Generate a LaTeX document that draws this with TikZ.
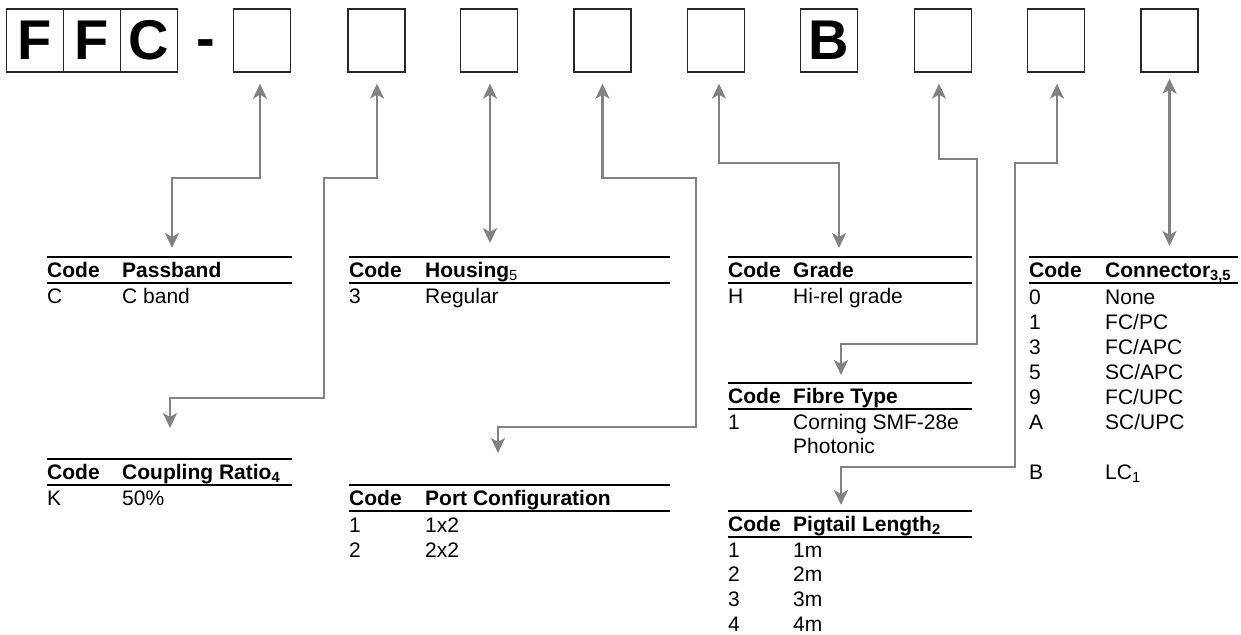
\documentclass[tikz,border=0pt]{standalone}
\usepackage{fontspec}
\setmainfont{Liberation Sans}
\usetikzlibrary{arrows.meta}

\definecolor{boxline}{RGB}{40,40,40}
\definecolor{conngray}{RGB}{130,130,130}

\newcommand\bigletters{\fontsize{56}{60}\selectfont\bfseries}
\newcommand\tabfont{\fontsize{21}{24}\selectfont}

\tikzset{
  codebox/.style={draw=boxline, line width=1.3pt, minimum width=57pt,
    minimum height=63pt, inner sep=0pt, font=\bigletters},
  conn/.style={draw=conngray, line width=2.4pt, {Stealth[length=15pt,width=14pt,inset=4pt]}-{Stealth[length=15pt,width=14pt,inset=4pt]}},
  tabrule/.style={line width=1.2pt, black},
  hd/.style={anchor=base west, inner sep=0pt, font=\tabfont\bfseries},
  cell/.style={anchor=base west, inner sep=0pt, font=\tabfont},
}

\begin{document}
\begin{tikzpicture}[x=1pt, y=-1pt]
  \useasboundingbox (0,0) rectangle (1241,634);

  % part-number boxes
  \node[codebox] (b1) at (35,40.5) {F};
  \node[codebox] (b2) at (92,40.5) {F};
  \node[codebox] (b3) at (149,40.5) {C};
  \node[anchor=base, inner sep=0pt, font=\bigletters] (dash) at (206,58) {-};
  \node[codebox] (b4)  at (262,40.5) {};
  \node[codebox] (b5)  at (376.5,40.5) {};
  \node[codebox] (b6)  at (489,40.5) {};
  \node[codebox] (b7)  at (602.5,40.5) {};
  \node[codebox] (b8)  at (716,40.5) {};
  \node[codebox] (b9)  at (829,40.5) {B};
  \node[codebox] (b10) at (943,40.5) {};
  \node[codebox] (b11) at (1056,40.5) {};
  \node[codebox] (b12) at (1169.5,40.5) {};

  % connector start points just below each box
  \coordinate (s4)  at ([xshift=-2pt,yshift=-11pt]b4.south);
  \coordinate (s5)  at ([xshift=0.5pt,yshift=-11pt]b5.south);
  \coordinate (s6)  at ([xshift=1pt,yshift=-11pt]b6.south);
  \coordinate (s7)  at ([yshift=-11pt]b7.south);
  \coordinate (s8)  at ([xshift=3pt,yshift=-11pt]b8.south);
  \coordinate (s10) at ([xshift=-4pt,yshift=-11pt]b10.south);
  \coordinate (s11) at ([xshift=1pt,yshift=-11pt]b11.south);
  \coordinate (s12) at ([yshift=-6pt]b12.south);

  % connector end points above each table
  \coordinate (e4)  at (172,248);
  \coordinate (e5)  at (170,428);
  \coordinate (e6)  at (s6 |- 0,243);
  \coordinate (e7)  at (498,453);
  \coordinate (e8)  at (839,248);
  \coordinate (e10) at (841,375);
  \coordinate (e11) at (841,505);
  \coordinate (e12) at (s12 |- 0,246);

  % connectors
  \draw[conn] (s4) |- (172,178) -- (e4);
  \draw[conn] (s5) |- (324,178) |- (170,398) -- (e5);
  \draw[conn] (s6) -- (e6);
  \draw[conn] (s7) |- (696,178) |- (498,427) -- (e7);
  \draw[conn] (s8) |- (839,163) -- (e8);
  \draw[conn] (s10) |- (977,159) |- (841,344) -- (e10);
  \draw[conn] (s11) |- (1015,163) |- (841,467) -- (e11);
  \draw[conn] (s12) -- (e12);

  % Passband
  \draw[tabrule] (47,257) -- (292,257);
  \draw[tabrule] (47,283) -- (292,283);
  \node[hd] (pbc) at (47,277) {Code};
  \node[hd] (pbh) at (122,277) {Passband};
  \node[cell] at (47,303) {C};
  \node[cell] at (122,303) {C band};

  % Coupling ratio
  \draw[tabrule] (47,459) -- (292,459);
  \draw[tabrule] (47,485) -- (292,485);
  \node[hd] (crc) at (47,479) {Code};
  \node[hd] (crh) at (122,479) {Coupling Ratio\textsubscript{4}};
  \node[cell] at (47,505) {K};
  \node[cell] at (122,505) {50\%};

  % Housing
  \draw[tabrule] (349,257) -- (670,257);
  \draw[tabrule] (349,283) -- (670,283);
  \node[hd] (hoc) at (349,277) {Code};
  \node[hd] (hoh) at (425,277) {Housing\textsubscript{\mdseries 5}};
  \node[cell] at (349,303) {3};
  \node[cell] at (425,303) {Regular};

  % Port configuration
  \draw[tabrule] (349,485) -- (670,485);
  \draw[tabrule] (349,511) -- (670,511);
  \node[hd] (pcc) at (349,505) {Code};
  \node[hd] (pch) at (425,505) {Port Configuration};
  \node[cell] at (349,532) {1};
  \node[cell] at (425,532) {1x2};
  \node[cell] at (349,557) {2};
  \node[cell] at (425,557) {2x2};

  % Grade
  \draw[tabrule] (728,257) -- (972,257);
  \draw[tabrule] (728,283) -- (972,283);
  \node[hd] (grc) at (728,277) {Code};
  \node[hd] (grh) at (793,277) {Grade};
  \node[cell] at (728,303) {H};
  \node[cell] at (793,303) {Hi-rel grade};

  % Fibre type
  \draw[tabrule] (728,383) -- (972,383);
  \draw[tabrule] (728,409) -- (972,409);
  \node[hd] (ftc) at (728,403) {Code};
  \node[hd] (fth) at (793,403) {Fibre Type};
  \node[cell] at (728,429) {1};
  \node[cell] at (793,429) {Corning SMF-28e};
  \node[cell] at (793,453) {Photonic};

  % Pigtail length
  \draw[tabrule] (728,511) -- (972,511);
  \draw[tabrule] (728,537) -- (972,537);
  \node[hd] (plc) at (728,531) {Code};
  \node[hd] (plh) at (793,531) {Pigtail Length\textsubscript{2}};
  \foreach \v [count=\i from 0] in {1,2,3,4}
    \node[cell] at (728,557+24.7*\i) {\v};
  \foreach \v [count=\i from 0] in {1,2,3,4}
    \node[cell] at (793,557+24.7*\i) {\v m};

  % Connector
  \draw[tabrule] (1029,257) -- (1238,257);
  \draw[tabrule] (1029,283) -- (1238,283);
  \node[hd] (coc) at (1029,277) {Code};
  \node[hd] (coh) at (1105,277) {Connector\textsubscript{3,5}};
  \foreach \c/\t [count=\i from 0] in {0/None, 1/FC\slash PC, 3/FC\slash APC, 5/SC\slash APC, 9/FC\slash UPC, A/SC\slash UPC}{
    \node[cell] at (1029,304+25*\i) {\c};
    \node[cell] at (1105,304+25*\i) {\t};
  }
  \node[cell] at (1029,479) {B};
  \node[cell] at (1105,479) {LC\textsubscript{\mdseries 1}};
\end{tikzpicture}
\end{document}
